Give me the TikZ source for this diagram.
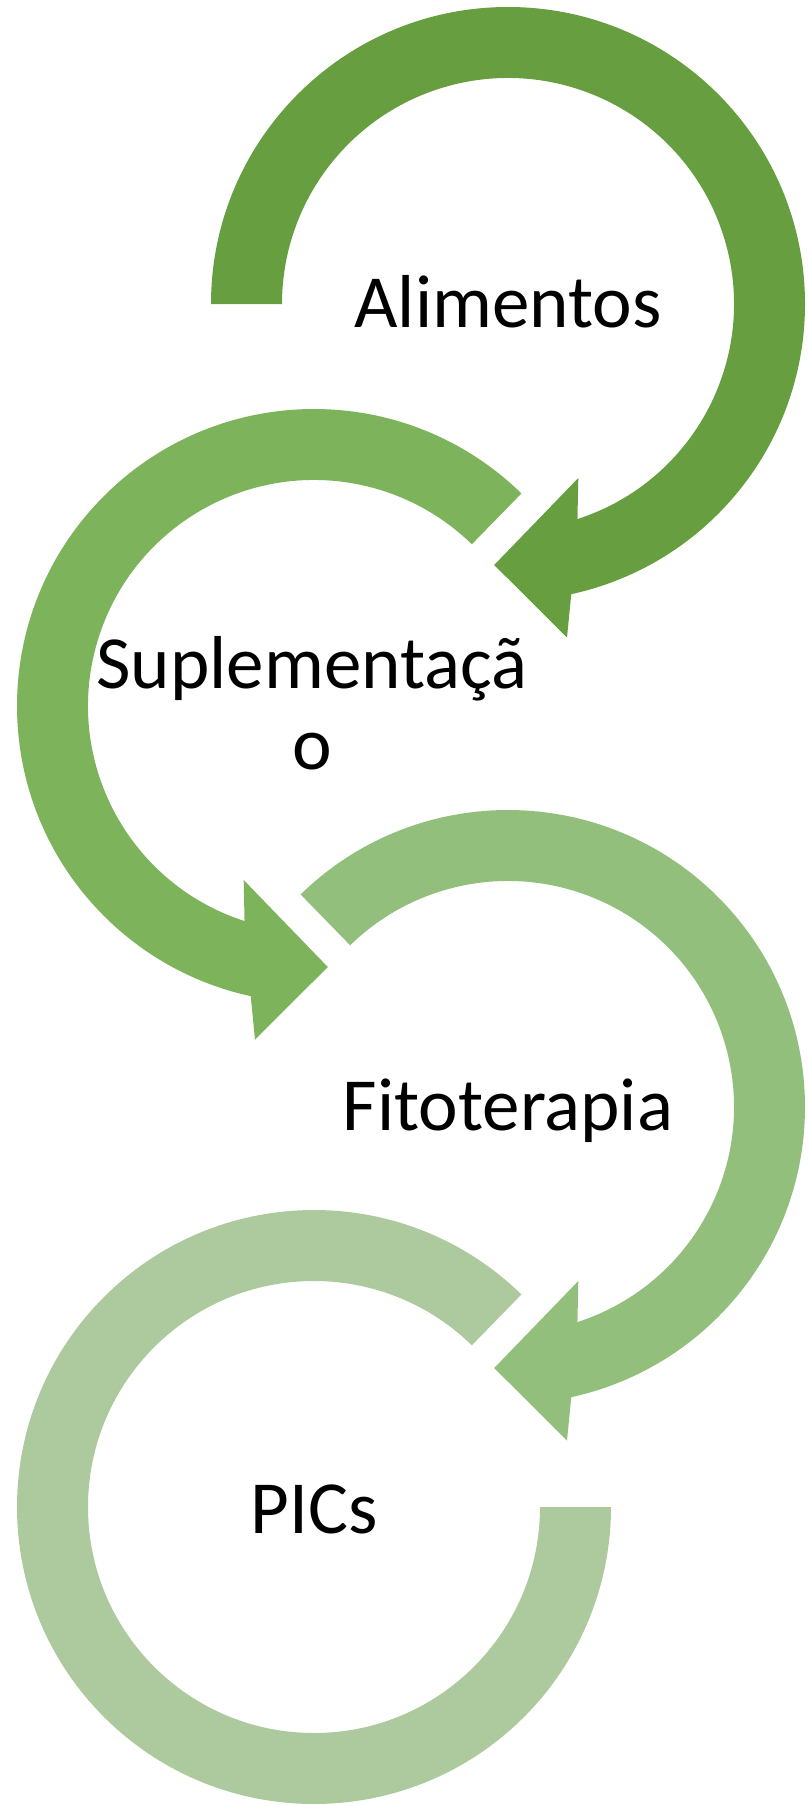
\documentclass[tikz,border=0pt]{standalone}
\usepackage{fontspec}
\setmainfont{Carlito}
\definecolor{ringA}{HTML}{669E40}
\definecolor{ringB}{HTML}{7DB35A}
\definecolor{ringC}{HTML}{93BF7C}
\definecolor{ringD}{HTML}{ADCA9E}
\begin{document}
\begin{tikzpicture}[x=1pt,y=1pt,
  lbl/.style={font=\fontsize{75}{81}\selectfont, inner sep=0pt, anchor=base, align=center, text=black},
  ringfill/.style={fill=#1, draw=none}]
\useasboundingbox (0,0) rectangle (808,-1806);
\coordinate (c1) at (508,-304);
\coordinate (c2) at (314,-706);
\coordinate (c3) at (508,-1107);
\coordinate (c4) at (314,-1507);
% ring 4 (PICs)
\begin{scope}[shift={(c4)}]
  \path[ringfill=ringD] (45.7:297) arc[start angle=45.7, end angle=360, radius=297]
    -- (0:226) arc[start angle=360, end angle=45.7, radius=226] -- cycle;
\end{scope}
% ring 3 (Fitoterapia)
\begin{scope}[shift={(c3)}]
  \path[ringfill=ringC] (134.3:297) arc[start angle=134.3, end angle=-77.7, radius=297]
    -- (59,-333.5) -- (-13.8,-261) -- (70.3,-174)
    -- (-72.1:226) arc[start angle=-72.1, end angle=134.3, radius=226] -- cycle;
\end{scope}
% ring 2 (Suplementacao)
\begin{scope}[shift={(c2)}]
  \path[ringfill=ringB] (45.7:297) arc[start angle=45.7, end angle=257.7, radius=297]
    -- (-59,-333.5) -- (13.8,-261) -- (-70.3,-174)
    -- (252.1:226) arc[start angle=252.1, end angle=45.7, radius=226] -- cycle;
\end{scope}
% ring 1 (Alimentos)
\begin{scope}[shift={(c1)}]
  \path[ringfill=ringA] (180:297) arc[start angle=180, end angle=-77.7, radius=297]
    -- (59,-333.5) -- (-13.8,-261) -- (70.3,-174)
    -- (-72.1:226) arc[start angle=-72.1, end angle=180, radius=226] -- cycle;
\end{scope}
\node[lbl] (t1) at (508,-327) {Alimentos};
\node[lbl] (t2) at (312,-769) {Suplementaçã\\o};
\node[lbl] (t3) at (508,-1130) {Fitoterapia};
\node[lbl] (t4) at (314,-1533) {PICs};
\end{tikzpicture}
\end{document}
